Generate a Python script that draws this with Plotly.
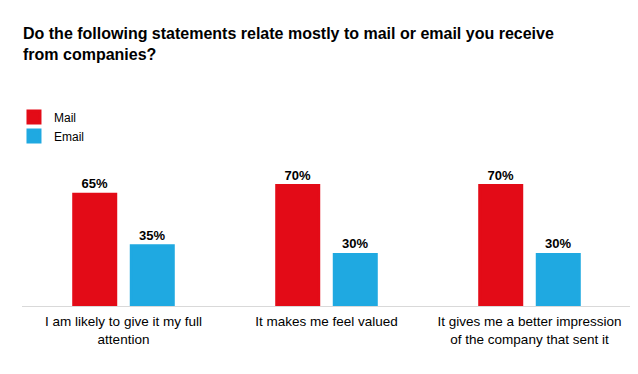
import plotly.graph_objects as go

categories = ["I am likely to give it my full<br>attention",
              "It makes me feel valued",
              "It gives me a better impression<br>of the company that sent it"]
mail_values = [65, 70, 70]
email_values = [35, 30, 30]
series_names = ["Mail", "Email"]
title_text = "Do the following statements relate mostly to mail or email you receive<br>from companies?"

RED = "#E30B17"
BLUE = "#1FA9E1"

W, H = 630, 366  # page body has an 8px margin

fig = go.Figure()
for name, vals, col in [(series_names[0], mail_values, RED), (series_names[1], email_values, BLUE)]:
    fig.add_trace(go.Bar(
        name=name, x=categories, y=vals,
        marker=dict(color=col, line=dict(color=col, width=3)),
        text=[f"{v}%" for v in vals], textposition="outside",
        textfont=dict(family="Liberation Sans, Arial", size=13, color="#000000", weight="bold"),
        cliponaxis=False,
    ))

fig.update_layout(
    width=W, height=H,
    margin=dict(l=13, r=7, t=20, b=68),
    paper_bgcolor="white", plot_bgcolor="white",
    barmode="group", bargap=0.433, bargroupgap=0.27,
    font=dict(family="Liberation Sans, Arial", size=12, color="#000000"),
    title=dict(text=title_text, x=15/W, xanchor="left", xref="container",
               y=1 - 31/H, yanchor="top", yref="container",
               font=dict(family="Liberation Sans, Arial", size=16, color="#000000", weight="bold")),
    legend=dict(x=-0.0115, xanchor="left", y=0.7317, yanchor="top", yref="paper",
                orientation="v", font=dict(size=12), itemwidth=30, tracegroupgap=0),
    xaxis=dict(showline=True, linecolor="#D9D9D9", linewidth=1, ticks="", showgrid=False,
               tickfont=dict(size=13.5, color="#000000"), automargin=False,
               ticklabelstandoff=3),
    yaxis=dict(visible=False, range=[0, 161.6], showgrid=False, zeroline=False),
    showlegend=True,
)
fig.write_html("out.html")
